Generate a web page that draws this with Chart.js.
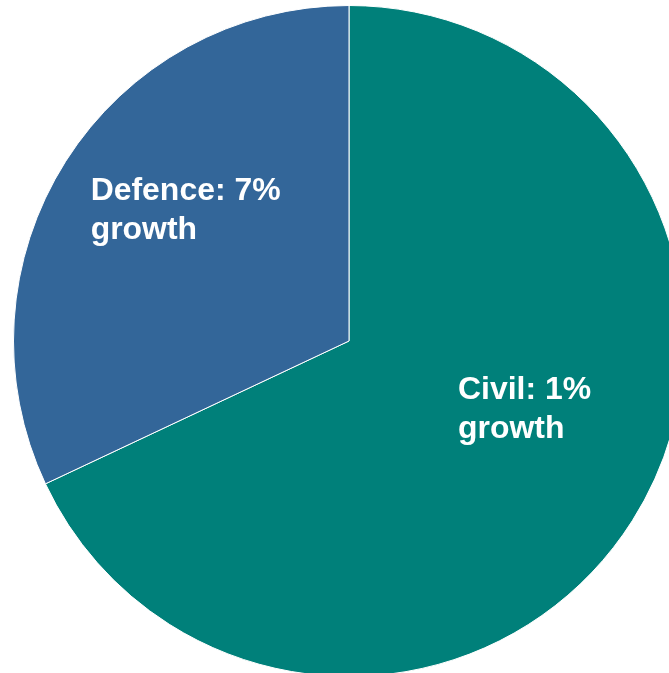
<!DOCTYPE html>
<html>
<head>
<meta charset="utf-8">
<script src="https://cdn.jsdelivr.net/npm/chart.js@4/dist/chart.umd.min.js"></script>
<style>
  html, body { margin: 0; padding: 0; background: #ffffff; overflow: hidden; }
  body { width: 669px; height: 673px; position: relative; }
  #pie { position: absolute; left: 13px; top: 5px; }
</style>
</head>
<body>
<canvas id="pie" width="672" height="672"></canvas>
<script>
// Share of spending by sector, with growth labels
const categories = ['Civil', 'Defence'];
const shares = [68, 32];
const growthPct = [1, 7];
const sliceColours = ['#00807A', '#336699'];

// Where each label block sits, as fractions of the pie radius from its centre
// (x of left edge, y of first baseline)
const labelAnchors = [
  { fx: 0.325, fy: 0.173 },
  { fx: -0.77, fy: -0.42 }
];

const growthLabels = {
  id: 'growthLabels',
  afterDatasetsDraw(chart) {
    const ctx = chart.ctx;
    const meta = chart.getDatasetMeta(0);
    ctx.save();
    ctx.fillStyle = '#ffffff';
    ctx.font = 'bold 31px "Liberation Sans", Arial, sans-serif';
    ctx.textAlign = 'left';
    ctx.textBaseline = 'alphabetic';
    meta.data.forEach((arc, i) => {
      const { x, y, outerRadius } = arc.getProps(['x', 'y', 'outerRadius'], true);
      const lx = x + labelAnchors[i].fx * outerRadius;
      const ly = y + labelAnchors[i].fy * outerRadius;
      const lines = [categories[i] + ': ' + growthPct[i] + '%', 'growth'];
      lines.forEach((line, j) => {
        ctx.save();
        ctx.translate(lx, ly + j * 39);
        ctx.scale(1.03, 1);
        ctx.fillText(line, 0, 0);
        ctx.restore();
      });
    });
    ctx.restore();
  }
};

new Chart(document.getElementById('pie'), {
  type: 'pie',
  data: {
    labels: categories,
    datasets: [{
      data: shares,
      backgroundColor: sliceColours,
      borderColor: '#ffffff',
      borderWidth: 1
    }]
  },
  options: {
    responsive: false,
    devicePixelRatio: 1,
    animation: false,
    layout: { padding: 0 },
    plugins: {
      legend: { display: false },
      tooltip: { enabled: false }
    }
  },
  plugins: [growthLabels]
});
</script>
</body>
</html>
